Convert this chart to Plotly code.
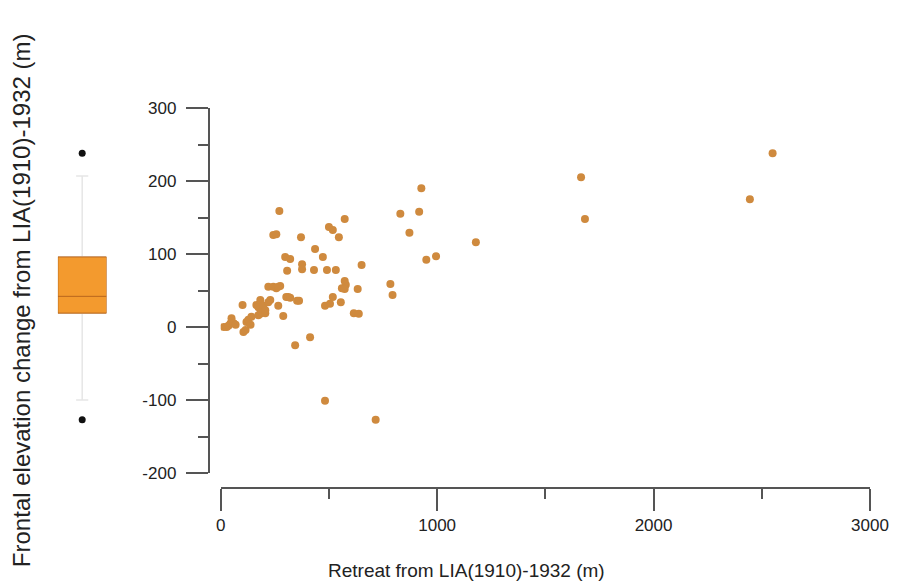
import plotly.graph_objects as go

# Scatter data: retreat (m) vs frontal elevation change (m)
retreat = [14, 28, 37, 46, 50, 60, 69, 101, 105, 115, 119, 128, 138, 142, 165, 174, 174, 183, 183, 188,
           197, 206, 206, 220, 220, 229, 257, 266, 275, 289, 243, 266, 303, 312, 321, 353, 362, 344, 413, 482,
           716, 271, 243, 257, 371, 500, 518, 573, 546, 436, 472, 298, 321, 376, 376, 307, 431, 491, 532, 651,
           573, 578, 560, 573, 633, 518, 555, 482, 505, 615, 638, 784, 794, 830, 917, 927, 872, 1179, 950, 995,
           1665, 1683, 2445, 2550]
elev = [0, 0, 2, 5, 12, 5, 3, 30, -7, -4, 7, 10, 3, 14, 30, 16, 27, 37, 18, 21,
        29, 19, 23, 34, 55, 37, 53, 29, 56, 15, 55, 55, 41, 41, 40, 36, 36, -25, -14, -101,
        -127, 159, 126, 127, 123, 137, 133, 148, 123, 107, 96, 96, 93, 86, 79, 77, 78, 78, 78, 85,
        63, 58, 53, 52, 52, 41, 34, 29, 32, 19, 18, 59, 44, 155, 158, 190, 129, 116, 92, 97,
        205, 148, 175, 238]

# Box summary of elevation change
box_q1 = 19
box_median = 42
box_q3 = 96
box_low = -100
box_high = 207
box_outliers = [238, -127]

x_ticks = [0, 1000, 2000, 3000]
x_labels = ["0", "1000", "2000", "3000"]
y_ticks = [-200, -100, 0, 100, 200, 300]
y_labels = ["-200", "-100", "0", "100", "200", "300"]

W, H = 901, 587
ml, mr, mt, mb = 40, 25, 108, 99
pw = W - ml - mr
ph = H - mt - mb

def fx(px):
    return (px - ml) / pw

def fy(py):
    return (H - mb - py) / ph

fig = go.Figure()

fig.add_trace(go.Scatter(
    x=retreat, y=elev, mode="markers", xaxis="x", yaxis="y",
    marker=dict(size=8, color="#CF8A3E", line=dict(width=0)),
    showlegend=False, hoverinfo="x+y"))

# whiskers (light gray)
fig.add_trace(go.Box(
    x=[0], q1=[box_q1], median=[box_median], q3=[box_q3],
    lowerfence=[box_low], upperfence=[box_high],
    xaxis="x2", yaxis="y", width=1, whiskerwidth=0.25,
    line=dict(color="#E6E6E6", width=1.5), fillcolor="rgba(0,0,0,0)",
    showlegend=False, boxpoints=False))
# box body
fig.add_trace(go.Box(
    x=[0], q1=[box_q1], median=[box_median], q3=[box_q3],
    lowerfence=[box_q1], upperfence=[box_q3],
    xaxis="x2", yaxis="y", width=1, whiskerwidth=0,
    line=dict(color="#B8661E", width=1), fillcolor="#F39A2E",
    showlegend=False, boxpoints=False))
fig.add_trace(go.Scatter(
    x=[0] * len(box_outliers), y=box_outliers, mode="markers", xaxis="x2", yaxis="y",
    marker=dict(size=7, color="#111111"), showlegend=False))

axis_col = "#555555"
fam = "Liberation Sans, Arial, sans-serif"
tickfont = dict(family=fam, size=17, color="#222222")

fig.update_layout(
    width=W, height=H,
    margin=dict(l=ml, r=mr, t=mt, b=mb),
    paper_bgcolor="white", plot_bgcolor="white",
    xaxis=dict(domain=[fx(222), 1], range=[0, 3000], anchor="free", position=0,
               tickvals=x_ticks, ticktext=x_labels, ticks="outside", ticklen=22, tickwidth=1.5,
               tickcolor=axis_col,
               minor=dict(dtick=500, tick0=0, ticks="outside", ticklen=10, tickwidth=1.5, tickcolor=axis_col),
               showline=True, linecolor=axis_col, linewidth=2, showgrid=False, zeroline=False,
               tickfont=tickfont),
    yaxis=dict(domain=[fy(473), 1], range=[-200, 300], anchor="free", position=fx(210),
               tickvals=y_ticks, ticktext=y_labels, ticks="outside", ticklen=22, tickwidth=1.5,
               tickcolor=axis_col, ticklabelstandoff=6,
               minor=dict(dtick=50, tick0=0, ticks="outside", ticklen=10, tickwidth=1.5, tickcolor=axis_col),
               showline=True, linecolor=axis_col, linewidth=2, showgrid=False, zeroline=False,
               tickfont=tickfont),
    xaxis2=dict(domain=[fx(58), fx(107)], range=[-0.5, 0.5], anchor="y", visible=False,
                showgrid=False, zeroline=False),
    annotations=[
        dict(text="Retreat from LIA(1910)-1932 (m)", xref="paper", yref="paper",
             x=fx(470), y=fy(570), xanchor="center", yanchor="middle", showarrow=False,
             font=dict(family=fam, size=19, color="#222222")),
        dict(text="Frontal elevation change from LIA(1910)-1932 (m)", xref="paper", yref="paper",
             x=fx(21), y=fy(300), xanchor="center", yanchor="middle", showarrow=False, textangle=-90,
             font=dict(family=fam, size=24, color="#222222")),
    ],
)

fig.write_html("out.html")
